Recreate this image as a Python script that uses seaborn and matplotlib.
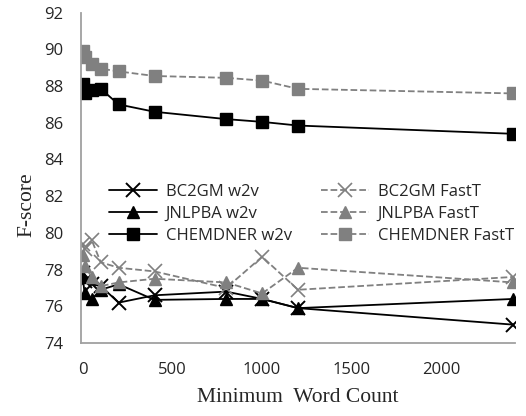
import matplotlib
matplotlib.use("Agg")
import matplotlib.pyplot as plt
import seaborn as sns
import pandas as pd

min_count = [0, 10, 50, 100, 200, 400, 800, 1000, 1200, 2400]

bc2gm_w2v = [77.8, 77.4, 77.2, 77.1, 76.2, 76.6, 76.8, 76.4, 75.9, 75.0]
jnlpba_w2v = [77.6, 76.7, 76.4, 76.9, 77.2, 76.35, 76.4, 76.4, 75.9, 76.4]
chemdner_w2v = [88.1, 87.6, 87.8, 87.85, 87.0, 86.6, 86.2, 86.05, 85.85, 85.4]
bc2gm_fastt = [79.4, 79.1, 79.6, 78.4, 78.1, 77.9, 77.0, 78.7, 76.9, 77.6]
jnlpba_fastt = [78.8, 78.2, 77.6, 77.1, 77.3, 77.5, 77.3, 76.7, 78.1, 77.3]
chemdner_fastt = [89.9, 89.6, 89.2, 88.95, 88.8, 88.55, 88.45, 88.3, 87.85, 87.6]

series_names = ["BC2GM w2v", "JNLPBA w2v", "CHEMDNER w2v",
                "BC2GM FastT", "JNLPBA FastT", "CHEMDNER FastT"]
series_vals = [bc2gm_w2v, jnlpba_w2v, chemdner_w2v,
               bc2gm_fastt, jnlpba_fastt, chemdner_fastt]

sns.set_theme(style="white")
plt.rcParams['font.family'] = ['Open Sans', 'DejaVu Sans']

fig = plt.figure(figsize=(5.26, 4.16), dpi=100)
ax = fig.add_axes([0.154, 0.1755, 0.825, 0.794])

gray = "#808080"
styles = {
    "BC2GM w2v": dict(color="black", ls="-", marker="x", ms=10, mew=1.4),
    "JNLPBA w2v": dict(color="black", ls="-", marker="^", ms=8, mew=1),
    "CHEMDNER w2v": dict(color="black", ls="-", marker="s", ms=8, mew=1),
    "BC2GM FastT": dict(color=gray, ls="--", marker="x", ms=10, mew=1.2),
    "JNLPBA FastT": dict(color=gray, ls="--", marker="^", ms=8, mew=1),
    "CHEMDNER FastT": dict(color=gray, ls="--", marker="s", ms=8, mew=1),
}

for name, vals in zip(series_names, series_vals):
    df = pd.DataFrame({"Minimum Word Count": min_count, "F-score": vals})
    st = styles[name]
    sns.lineplot(data=df, x="Minimum Word Count", y="F-score", ax=ax,
                 color=st["color"], linestyle=st["ls"], marker=st["marker"],
                 markersize=st["ms"], markeredgewidth=st["mew"],
                 markeredgecolor=st["color"], markerfacecolor=st["color"],
                 linewidth=1.3, label=name)

ax.set_xlim(-10, 2410)
ax.set_ylim(74, 92)
ax.set_yticks([74, 76, 78, 80, 82, 84, 86, 88, 90, 92])
ax.set_xticks([0, 500, 1000, 1500, 2000])
ax.tick_params(axis='both', labelsize=12, length=0)
ax.tick_params(axis='x', pad=14)
ax.tick_params(axis='y', pad=13)
for s in ["top", "right"]:
    ax.spines[s].set_visible(False)
for s in ["left", "bottom"]:
    ax.spines[s].set_color("#a0a0a0")
    ax.spines[s].set_linewidth(1.3)

ax.set_xlabel("Minimum  Word Count", fontsize=15.5, family="Liberation Serif")
ax.set_ylabel("F-score", fontsize=15.5, family="Liberation Serif")
ax.xaxis.set_label_coords(0.5, -0.137)
ax.yaxis.set_label_coords(-0.102, 0.42)

ax.legend(ncol=2, frameon=False, fontsize=12, loc="upper left",
          bbox_to_anchor=(0.03, 0.528), handlelength=2.9, columnspacing=1.75,
          labelspacing=0.38, handletextpad=0.5)

fig.savefig("out.png", dpi=100)
